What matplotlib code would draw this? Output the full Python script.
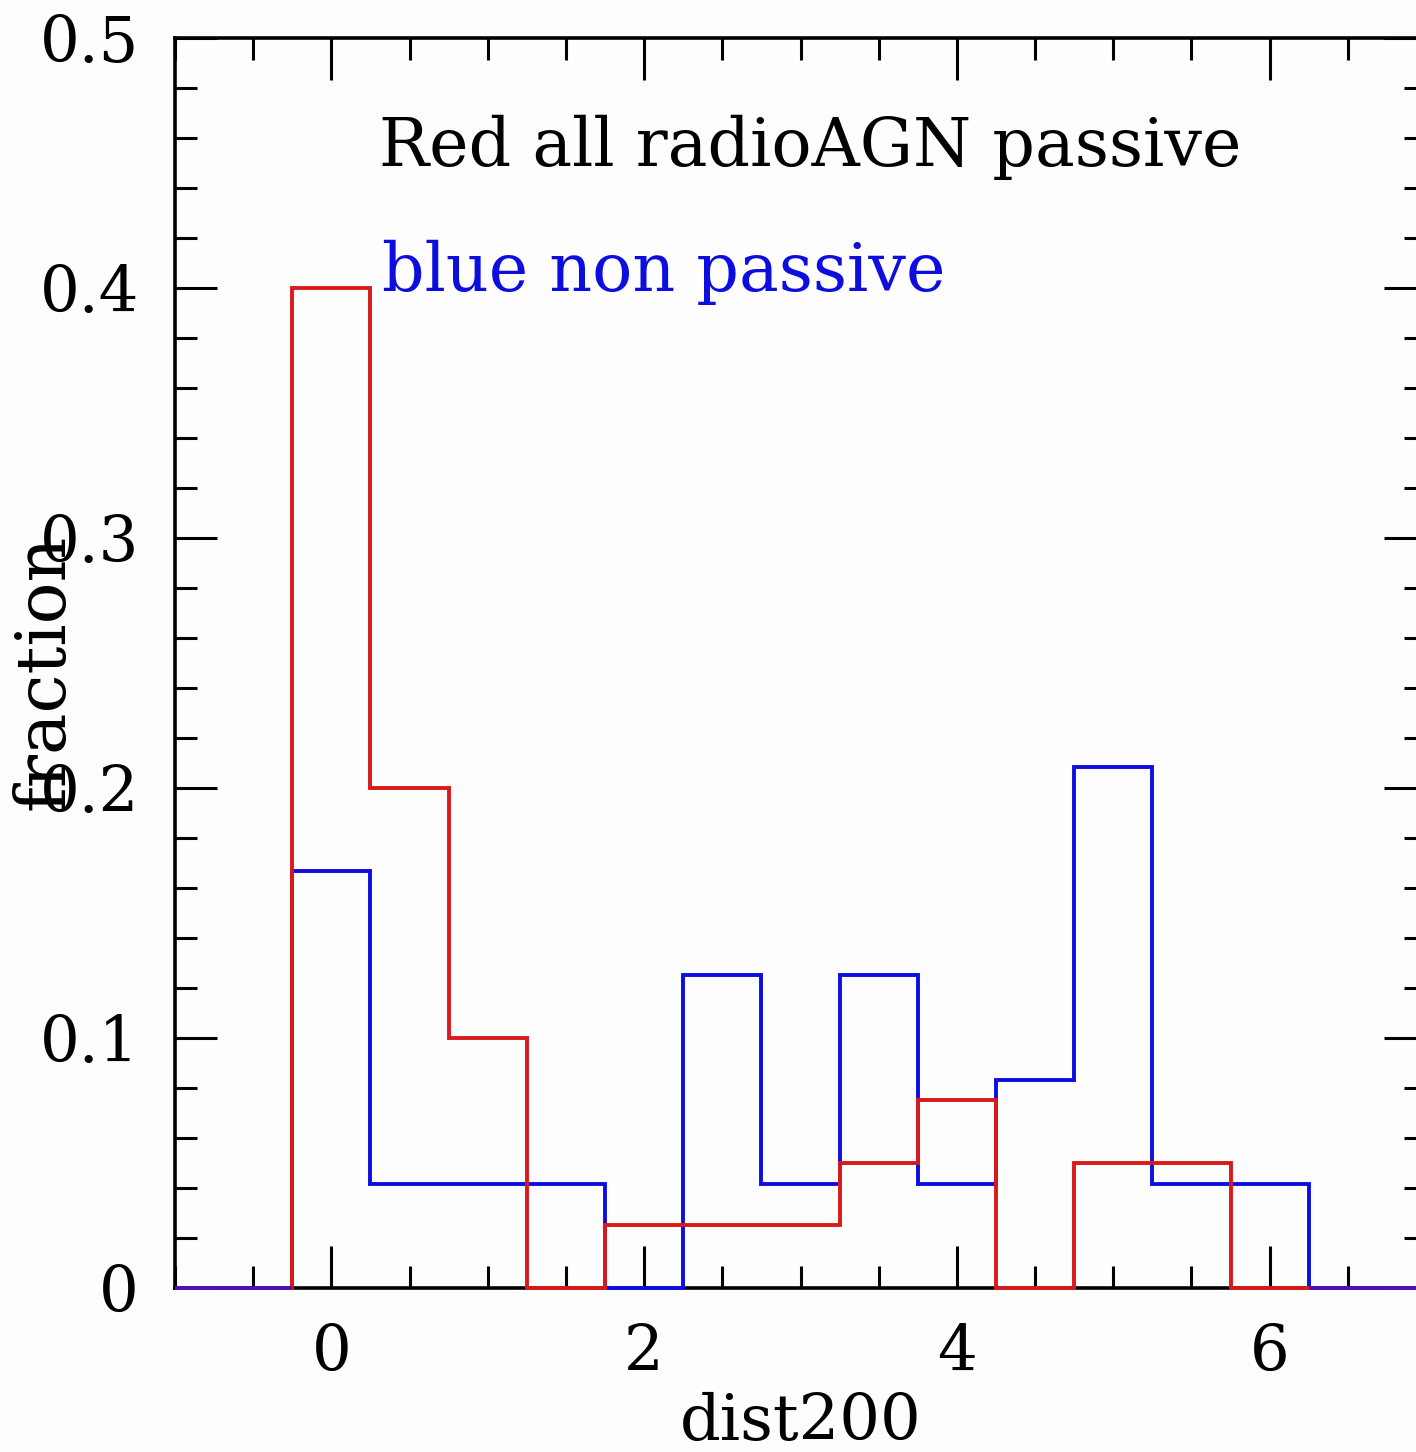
import matplotlib
matplotlib.use("Agg")
import matplotlib.pyplot as plt
import numpy as np
from matplotlib.ticker import MultipleLocator

# histogram bins (0.5 wide) and fractions per bin
bin_centers = [-1.0, -0.5, 0.0, 0.5, 1.0, 1.5, 2.0, 2.5, 3.0, 3.5, 4.0, 4.5, 5.0, 5.5, 6.0, 6.5, 7.0]
red_frac = [0, 0, 0.4, 0.2, 0.1, 0, 0.025, 0.025, 0.025, 0.05, 0.075, 0, 0.05, 0.05, 0, 0, 0]
blue_frac = [0, 0, 4 / 24, 1 / 24, 1 / 24, 1 / 24, 0, 3 / 24, 1 / 24, 3 / 24, 1 / 24, 2 / 24, 5 / 24,
             1 / 24, 1 / 24, 0, 0]
x_ticks = [0, 2, 4, 6]
y_ticks = [0, 0.1, 0.2, 0.3, 0.4, 0.5]
y_ticklabels = ["0", "0.1", "0.2", "0.3", "0.4", "0.5"]

BIN_W = 0.5
XMIN, XMAX = -1, 7
RED = "#d81a1a"
BLUE = "#0d0de0"
PURPLE = "#4a12b0"  # where both histograms sit on zero
FONT = "DejaVu Serif"

centers = np.array(bin_centers)
edges = np.append(centers - BIN_W / 2, centers[-1] + BIN_W / 2)
edges = np.clip(edges, XMIN, XMAX)
red = np.array(red_frac)
blue = np.array(blue_frac)

fig = plt.figure(figsize=(14.16, 14.52), dpi=100)
fig.patch.set_facecolor("#fdfdfd")
ax = fig.add_axes([0.1236, 0.1130, 0.8835, 0.8608])
ax.set_facecolor("#fdfdfd")

ax.stairs(blue, edges, color=BLUE, linewidth=2.8, zorder=6, clip_on=False)
ax.stairs(red, edges, color=RED, linewidth=2.8, zorder=7, clip_on=False)

both_zero = (red == 0) & (blue == 0)
ax.hlines(np.zeros(both_zero.sum()), edges[:-1][both_zero], edges[1:][both_zero],
          color=PURPLE, linewidth=2.8, zorder=8, clip_on=False)

ax.set_xlim(XMIN, XMAX)
ax.set_ylim(0, 0.5)

ax.xaxis.set_major_locator(plt.FixedLocator(x_ticks))
ax.xaxis.set_minor_locator(MultipleLocator(0.5))
ax.yaxis.set_major_locator(plt.FixedLocator(y_ticks))
ax.yaxis.set_minor_locator(MultipleLocator(0.02))
ax.set_xticklabels([str(t) for t in x_ticks])
ax.set_yticklabels(y_ticklabels)

ax.tick_params(which="both", direction="in", top=True, right=True, width=2.2, color="black")
ax.tick_params(which="major", length=30, labelsize=45)
ax.tick_params(axis="y", which="major", pad=26)
ax.tick_params(axis="x", which="major", pad=25)
ax.tick_params(which="minor", length=16)
for lab in ax.get_xticklabels() + ax.get_yticklabels():
    lab.set_family(FONT)

for spine in ax.spines.values():
    spine.set_linewidth(2.6)
    spine.set_zorder(5)

fig.text(0.5657, 0.008, "dist200", ha="center", va="baseline", fontsize=46, family=FONT)
fig.text(0.031, 0.537, "fraction", ha="center", va="center", rotation=90, fontsize=50, family=FONT)

ax.text(0.307, 0.449, "Red all radioAGN passive", ha="left", va="baseline",
        fontsize=48, family=FONT, color="black")
ax.text(0.326, 0.399, "blue non passive", ha="left", va="baseline",
        fontsize=48, family=FONT, color=BLUE)

fig.savefig("out.png", dpi=100, facecolor=fig.get_facecolor())
